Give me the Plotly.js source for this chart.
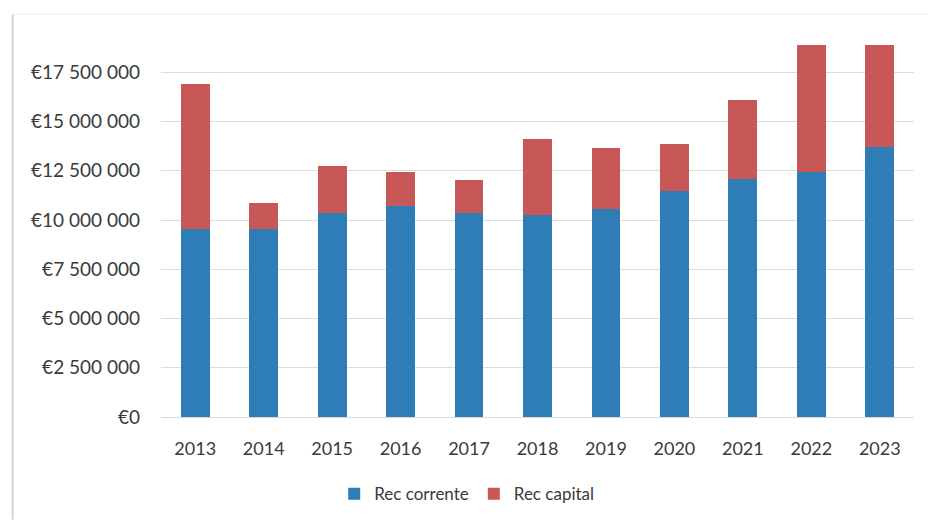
<!DOCTYPE html>
<html>
<head>
<meta charset="utf-8">
<script src="https://cdn.plot.ly/plotly-3.0.1.min.js"></script>
<style>
html,body{margin:0;padding:0;background:#fff;}
#chart{width:928px;height:524px;}
</style>
</head>
<body>
<div id="chart"></div>
<script>
// Data (euros)
const years = ['2013','2014','2015','2016','2017','2018','2019','2020','2021','2022','2023'];
const recCorrente = [9520000, 9560000, 10370000, 10690000, 10350000, 10230000, 10540000, 11450000, 12090000, 12420000, 13690000];
const recCapital  = [7360000, 1300000, 2390000, 1730000, 1690000, 3880000, 3100000, 2400000, 4000000, 6480000, 5210000];
const tickValues = [0, 2500000, 5000000, 7500000, 10000000, 12500000, 15000000, 17500000];
const tickLabels = ['€0', '€2 500 000', '€5 000 000', '€7 500 000', '€10 000 000', '€12 500 000', '€15 000 000', '€17 500 000'];

const font = 'Lato, "Open Sans", sans-serif';
const textColor = '#3a3a3a';

const traces = [
  {type:'bar', name:'Rec corrente', x:years, y:recCorrente, marker:{color:'#2E7DB6'}},
  {type:'bar', name:'Rec capital', x:years, y:recCapital, marker:{color:'#C85858'}}
];

const layout = {
  width:928, height:524,
  barmode:'stack',
  bargap:0.58,
  paper_bgcolor:'#fff', plot_bgcolor:'#fff',
  margin:{l:161, r:14, t:23, b:105, pad:0},
  font:{family:font, color:textColor, size:17},
  xaxis:{
    type:'category',
    tickfont:{family:font, size:18, color:textColor},
    showgrid:false, showline:true, linecolor:'#d9d9d9', linewidth:1,
    ticks:'', ticklen:0, ticklabelstandoff:15
  },
  yaxis:{
    range:[0, 20000000],
    tickvals:tickValues, ticktext:tickLabels,
    tickfont:{family:font, size:19, color:textColor},
    showgrid:true, gridcolor:'#dcdcdc', gridwidth:1,
    zeroline:false, showline:false, ticks:'', ticklabelstandoff:20
  },
  showlegend:true,
  legend:{
    orientation:'h', x:0.406, xanchor:'center', y:-0.15, yanchor:'top',
    font:{family:font, size:17, color:textColor},
    itemwidth:30, traceorder:'normal'
  },
  shapes:[
    {type:'line', xref:'paper', yref:'paper', x0:-0.197, x1:-0.197, y0:1.022, y1:-0.26, line:{color:'#d4d4d4', width:2}},
    {type:'line', xref:'paper', yref:'paper', x0:-0.197, x1:1.03, y0:1.022, y1:1.022, line:{color:'#eeeeee', width:1}}
  ]
};

Plotly.newPlot('chart', traces, layout, {staticPlot:true, displayModeBar:false});
</script>
</body>
</html>
